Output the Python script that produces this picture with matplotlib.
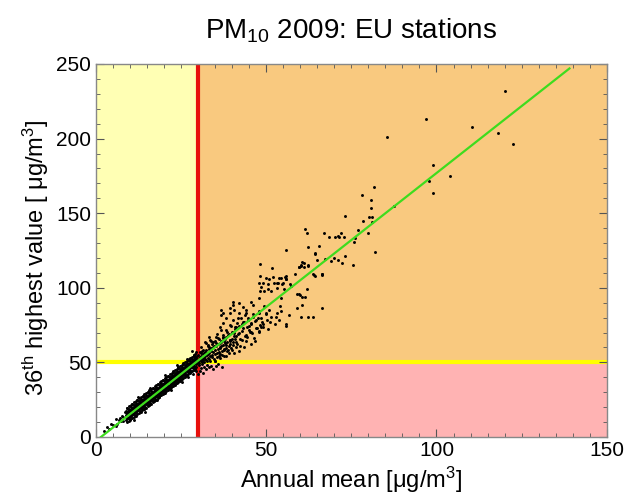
import numpy as np
import matplotlib.pyplot as plt
from matplotlib.ticker import MultipleLocator

plt.rcParams['font.family'] = ['Liberation Sans', 'DejaVu Sans']
plt.rcParams['font.size'] = 14
plt.rcParams['mathtext.fontset'] = 'custom'
plt.rcParams['mathtext.rm'] = 'Liberation Sans'
plt.rcParams['mathtext.it'] = 'Liberation Sans:italic'
plt.rcParams['mathtext.default'] = 'regular'

# limit values
limit_mean = 30      # annual mean limit
limit_day = 50       # daily limit value

# regression line (end points)
fit_x = [1.6, 139.0]
fit_y = [0.0, 247.0]

# low end of the band
low_x = [2.6, 3.3, 4.0, 4.5, 5.2, 5.9, 6.3, 6.8, 7.2, 7.5, 7.8, 8.2, 8.6, 8.0, 6.0]
low_y = [4.0, 6.5, 5.5, 8.5, 7.8, 11.9, 9.0, 11.5, 12.5, 10.8, 14.0, 11.0, 17.0, 13.2, 7.5]

# dense band below the limits
band_x = [
    9.0, 9.2, 8.9, 9.3, 8.8,
    9.5, 9.7, 9.4, 9.8, 9.3,
    10.0, 10.2, 9.9, 10.3, 9.8,
    10.5, 10.7, 10.4, 10.8, 10.3,
    11.0, 11.2, 10.9, 11.3, 10.8,
    11.5, 11.7, 11.4, 11.8, 11.3,
    12.0, 12.2, 11.9, 12.3, 11.8,
    12.5, 12.7, 12.4, 12.8, 12.3,
    13.0, 13.2, 12.9, 13.3, 12.8,
    13.5, 13.7, 13.4, 13.8, 13.3,
    14.0, 14.2, 13.9, 14.3, 13.8, 14.1,
    14.5, 14.7, 14.4, 14.8, 14.3, 14.6,
    15.0, 15.2, 14.9, 15.3, 14.8, 15.1,
    15.5, 15.7, 15.4, 15.8, 15.3, 15.6,
    16.0, 16.2, 15.9, 16.3, 15.8, 16.1,
    16.5, 16.7, 16.4, 16.8, 16.3, 16.6,
    17.0, 17.2, 16.9, 17.3, 16.8, 17.1,
    17.5, 17.7, 17.4, 17.8, 17.3, 17.6,
    18.0, 18.2, 17.9, 18.3, 17.8, 18.1,
    18.5, 18.7, 18.4, 18.8, 18.3, 18.6,
    19.0, 19.2, 18.9, 19.3, 18.8, 19.1,
    19.5, 19.7, 19.4, 19.8, 19.3, 19.6,
    20.0, 20.2, 19.9, 20.3, 19.8, 20.1,
    20.5, 20.7, 20.4, 20.8, 20.3, 20.6,
    21.0, 21.2, 20.9, 21.3, 20.8, 21.1,
    21.5, 21.7, 21.4, 21.8, 21.3, 21.6,
    22.0, 22.2, 21.9, 22.3, 21.8, 22.1,
    22.5, 22.7, 22.4, 22.8, 22.3, 22.6,
    23.0, 23.2, 22.9, 23.3, 22.8, 23.1,
    23.5, 23.7, 23.4, 23.8, 23.3, 23.6,
    24.0, 24.2, 23.9, 24.3, 23.8, 24.1,
    24.5, 24.7, 24.4, 24.8, 24.3, 24.6,
    25.0, 25.2, 24.9, 25.3, 24.8, 25.1,
    25.5, 25.7, 25.4, 25.8, 25.3, 25.6,
    26.0, 26.2, 25.9, 26.3, 25.8, 26.1,
    26.5, 26.7, 26.4, 26.8, 26.3, 26.6,
    27.0, 27.2, 26.9, 27.3, 26.8, 27.1,
    27.5, 27.7, 27.4, 27.8, 27.3, 27.6,
    28.0, 28.2, 27.9, 28.3, 27.8, 28.1,
    28.5, 28.7, 28.4, 28.8, 28.3, 28.6,
    29.0, 29.2, 28.9, 29.3, 28.8, 29.1,
    29.5, 29.7, 29.4, 29.8, 29.3, 29.6,
]
band_y = [
    11.1, 12.9, 14.6, 15.9, 17.3,
    12.7, 14.6, 16.1, 17.4, 19.3,
    12.1, 14.2, 15.9, 17.3, 18.7,
    13.8, 15.6, 17.3, 18.6, 20.0,
    15.4, 17.3, 18.8, 20.1, 22.0,
    14.8, 16.9, 18.6, 20.0, 21.4,
    16.5, 18.3, 20.0, 21.3, 22.7,
    18.1, 20.0, 21.5, 22.8, 24.7,
    17.5, 19.6, 21.3, 22.7, 24.1,
    19.2, 21.0, 22.7, 24.0, 25.4,
    20.8, 22.7, 24.2, 25.5, 27.4, 19.0,
    20.2, 22.3, 24.0, 25.4, 26.8, 24.8,
    21.9, 23.7, 25.4, 26.7, 28.1, 24.4,
    23.5, 25.4, 26.9, 28.2, 30.1, 21.7,
    22.9, 25.0, 26.7, 28.1, 29.5, 27.5,
    24.6, 26.4, 28.1, 29.4, 30.8, 27.1,
    26.2, 28.1, 29.6, 30.9, 32.8, 24.4,
    25.6, 27.7, 29.4, 30.8, 32.2, 30.2,
    27.3, 29.1, 30.8, 32.1, 33.5, 29.8,
    28.9, 30.8, 32.3, 33.6, 35.5, 27.1,
    28.3, 30.4, 32.1, 33.5, 34.9, 32.9,
    30.0, 31.8, 33.5, 34.8, 36.2, 32.5,
    31.6, 33.5, 35.0, 36.3, 38.2, 29.8,
    31.0, 33.1, 34.8, 36.2, 37.6, 35.6,
    32.7, 34.5, 36.2, 37.5, 38.9, 35.2,
    34.3, 36.2, 37.7, 39.0, 40.9, 32.5,
    33.7, 35.8, 37.5, 38.9, 40.3, 38.3,
    35.4, 37.2, 38.9, 40.2, 41.6, 37.9,
    37.0, 38.9, 40.4, 41.7, 43.6, 35.2,
    36.4, 38.5, 40.2, 41.6, 43.0, 41.0,
    38.1, 39.9, 41.6, 42.9, 44.3, 40.6,
    39.7, 41.6, 43.1, 44.4, 46.3, 37.9,
    39.1, 41.2, 42.9, 44.3, 45.7, 43.7,
    40.8, 42.6, 44.3, 45.6, 47.0, 43.3,
    42.4, 44.3, 45.8, 47.1, 49.0, 40.6,
    41.8, 43.9, 45.6, 47.0, 48.4, 46.4,
    43.5, 45.3, 47.0, 48.3, 49.7, 46.0,
    45.1, 47.0, 48.5, 49.8, 51.7, 43.3,
    44.5, 46.6, 48.3, 49.7, 51.1, 49.1,
    46.2, 48.0, 49.7, 51.0, 52.4, 48.7,
    47.8, 49.7, 51.2, 52.5, 54.4, 46.0,
    47.2, 49.3, 51.0, 52.4, 53.8, 51.8,
]

# more of the band, in between the columns above
band2_x = [
    9.25, 9.35, 9.15, 9.3, 9.75, 9.85, 9.65, 9.8,
    10.25, 10.35, 10.15, 10.3, 10.75, 10.85, 10.65, 10.8,
    11.25, 11.35, 11.15, 11.3, 11.75, 11.85, 11.65, 11.8,
    12.25, 12.35, 12.15, 12.3, 12.75, 12.85, 12.65, 12.8,
    13.25, 13.35, 13.15, 13.3, 13.75, 13.85, 13.65, 13.8,
    14.25, 14.35, 14.15, 14.3, 14.75, 14.85, 14.65, 14.8,
    15.25, 15.35, 15.15, 15.3, 15.75, 15.85, 15.65, 15.8,
    16.25, 16.35, 16.15, 16.3, 16.75, 16.85, 16.65, 16.8,
    17.25, 17.35, 17.15, 17.3, 17.75, 17.85, 17.65, 17.8,
    18.25, 18.35, 18.15, 18.3, 18.75, 18.85, 18.65, 18.8,
    19.25, 19.35, 19.15, 19.3, 19.75, 19.85, 19.65, 19.8,
    20.25, 20.35, 20.15, 20.3, 20.75, 20.85, 20.65, 20.8,
    21.25, 21.35, 21.15, 21.3, 21.75, 21.85, 21.65, 21.8,
    22.25, 22.35, 22.15, 22.3, 22.75, 22.85, 22.65, 22.8,
    23.25, 23.35, 23.15, 23.3, 23.75, 23.85, 23.65, 23.8,
    24.25, 24.35, 24.15, 24.3, 24.75, 24.85, 24.65, 24.8,
    25.25, 25.35, 25.15, 25.3, 25.75, 25.85, 25.65, 25.8,
    26.25, 26.35, 26.15, 26.3, 26.75, 26.85, 26.65, 26.8,
    27.25, 27.35, 27.15, 27.3, 27.75, 27.85, 27.65, 27.8,
    28.25, 28.35, 28.15, 28.3, 28.75, 28.85, 28.65, 28.8,
    29.25, 29.35, 29.15, 29.3,
]
band2_y = [
    9.8, 12.6, 16.6, 19.6, 10.7, 13.5, 17.5, 20.5,
    11.6, 14.4, 18.4, 21.4, 12.5, 15.3, 19.3, 22.3,
    13.4, 16.2, 20.2, 23.2, 14.3, 17.1, 21.1, 24.1,
    15.2, 18.0, 22.0, 25.0, 16.1, 18.9, 22.9, 25.9,
    17.0, 19.8, 23.8, 26.8, 17.9, 20.7, 24.7, 27.7,
    18.8, 21.6, 25.6, 28.6, 19.7, 22.5, 26.5, 29.5,
    20.6, 23.4, 27.4, 30.4, 21.5, 24.3, 28.3, 31.3,
    22.4, 25.2, 29.2, 32.2, 23.3, 26.1, 30.1, 33.1,
    24.2, 27.0, 31.0, 34.0, 25.1, 27.9, 31.9, 34.9,
    26.0, 28.8, 32.8, 35.8, 26.9, 29.7, 33.7, 36.7,
    27.8, 30.6, 34.6, 37.6, 28.7, 31.5, 35.5, 38.5,
    29.6, 32.4, 36.4, 39.4, 30.5, 33.3, 37.3, 40.3,
    31.4, 34.2, 38.2, 41.2, 32.3, 35.1, 39.1, 42.1,
    33.2, 36.0, 40.0, 43.0, 34.1, 36.9, 40.9, 43.9,
    35.0, 37.8, 41.8, 44.8, 35.9, 38.7, 42.7, 45.7,
    36.8, 39.6, 43.6, 46.6, 37.7, 40.5, 44.5, 47.5,
    38.6, 41.4, 45.4, 48.4, 39.5, 42.3, 46.3, 49.3,
    40.4, 43.2, 47.2, 50.2, 41.3, 44.1, 48.1, 51.1,
    42.2, 45.0, 49.0, 52.0, 43.1, 45.9, 49.9, 52.9,
    44.0, 46.8, 50.8, 53.8, 44.9, 47.7, 51.7, 54.7,
    45.8, 48.6, 52.6, 55.6,
]

# stragglers around the band
stray_x = [11.3, 14.5, 18.0, 22.0, 25.5, 20.5, 16.0, 12.5, 24.0, 27.0, 28.5, 29.5,
           26.8, 27.5, 28.0, 28.4, 28.8, 29.1, 29.4, 29.7, 28.2]
stray_y = [11.5, 17.0, 25.0, 31.5, 37.0, 41.5, 33.0, 26.5, 48.0, 40.0, 42.5, 44.0,
           52.2, 51.5, 53.0, 52.0, 55.0, 53.5, 56.8, 54.5, 57.5]

# cloud just above / right of the limits
cloud_x = [30.3, 30.8, 31.2, 30.5, 31.7, 32.0, 32.4, 31.5, 32.8, 33.1, 33.5, 33.8,
           34.2, 34.0, 34.6, 35.0, 35.3, 35.7, 36.1, 36.0, 36.5, 36.9, 37.2, 37.5,
           37.9, 38.2, 38.5, 38.8, 39.1, 39.5, 39.9, 40.2, 40.6, 41.0, 41.3, 41.8,
           42.2, 42.5, 43.0, 43.4, 43.8, 44.3, 44.8, 45.2, 45.7, 46.1, 46.5, 47.0,
           47.5, 48.0, 48.5, 49.0, 49.5, 50.0,
           30.1, 30.6, 31.0, 31.4, 31.9, 32.2, 32.6, 33.0, 33.3, 33.7, 34.4, 34.8,
           35.5, 35.9, 36.3, 36.7, 37.1, 37.7, 38.0, 38.6, 39.3, 39.7, 40.4, 40.9,
           31.5, 32.9, 34.1, 35.1, 36.2, 37.4, 38.7, 35.6, 33.6, 32.0, 31.0, 30.7,
           36.8, 39.6, 41.5, 42.8, 44.0, 37.8, 39.0, 40.1, 41.6, 42.9, 44.5, 46.0,
           47.8, 49.2, 50.6, 52.5, 53.8, 46.8, 45.5, 43.5, 42.0, 38.2, 36.6, 34.9,
           30.2, 30.9, 31.3, 31.8, 32.5, 33.0, 33.4, 34.0, 34.5, 35.0, 35.4, 35.8,
           36.4, 36.8, 37.3, 37.8, 38.4, 39.0, 39.4, 40.0, 40.7, 41.2, 30.4, 31.1,
           31.6, 32.1, 32.7, 33.4, 34.3, 35.1, 36.4, 37.6, 38.9, 40.5, 42.4, 44.0,
           45.0, 46.8, 43.0, 41.0]
cloud_y = [49.5, 51.0, 52.5, 53.8, 50.2, 54.0, 51.5, 55.6, 56.5, 53.2, 50.6, 57.8,
           55.0, 59.5, 52.3, 58.2, 61.0, 56.3, 54.1, 62.5, 59.4, 64.0, 57.5, 61.8,
           66.0, 59.9, 63.5, 68.2, 61.2, 65.3, 70.1, 63.4, 67.5, 72.5, 60.5, 69.0,
           74.4, 65.8, 71.0, 77.2, 68.0, 73.6, 79.5, 70.2, 76.0, 82.4, 66.5, 78.3,
           73.0, 84.5, 80.0, 75.5, 88.0, 82.5,
           50.8, 52.2, 54.6, 51.8, 53.3, 57.2, 50.9, 55.4, 58.9, 54.0, 57.0, 60.7,
           53.8, 58.8, 57.0, 61.3, 55.2, 59.0, 62.8, 57.6, 64.2, 59.8, 61.6, 65.9,
           58.5, 60.8, 62.0, 64.5, 65.8, 68.6, 70.5, 69.0, 65.0, 63.5, 60.0, 57.2,
           72.0, 74.5, 76.5, 80.0, 83.0, 58.5, 56.0, 58.2, 62.0, 64.8, 66.8, 69.5,
           71.0, 73.8, 72.2, 76.0, 78.5, 64.0, 62.5, 60.2, 57.5, 54.5, 52.8, 51.2,
           55.0, 56.5, 57.8, 56.0, 58.5, 61.5, 56.2, 64.0, 60.0, 55.5, 62.8, 66.5,
           60.5, 63.5, 67.0, 64.0, 66.8, 69.0, 62.5, 66.0, 70.0, 68.0, 51.8, 50.5,
           53.0, 52.0, 54.8, 52.0, 53.5, 51.0, 55.5, 54.0, 58.5, 56.0, 61.0, 64.5,
           74.5, 78.0, 75.8, 74.0]

# stations exceeding only the annual mean (below the daily limit)
pink_x = [30.4, 30.9, 31.3, 31.8, 32.3, 32.7, 33.2, 33.9, 34.5, 35.2, 36.0, 37.0, 30.6, 31.5, 30.2]
pink_y = [48.0, 46.5, 48.8, 47.2, 45.5, 48.3, 46.8, 47.9, 45.8, 47.4, 48.6, 47.0, 44.0, 43.0, 42.0]

# middle of the scatter
mid_x = [48.1, 51.7, 59.7, 61.2, 62.2, 60.3, 64.1, 66.4, 58.6, 48.2, 50.1, 51.0,
         52.1, 53.1, 53.7, 55.8, 55.8, 54.7, 56.9, 53.2, 50.5, 48.0, 48.6, 59.7,
         61.5, 60.7, 59.1, 62.2, 60.4, 56.0, 55.8, 63.9, 66.4, 51.2, 50.2, 48.8,
         51.6, 52.9, 53.1, 54.4, 54.2, 48.0, 50.0, 47.6, 51.0, 48.0, 45.1, 48.2,
         45.6, 46.1, 40.3, 42.2, 43.2, 44.2, 45.6, 46.1, 40.7, 42.2, 43.7, 39.3,
         37.3, 38.3, 40.3, 41.7, 43.2, 44.6, 36.9, 37.3, 39.3, 41.2, 43.2, 36.4,
         38.3, 40.3, 42.2, 44.2, 45.6, 33.4, 35.4, 37.3, 39.3, 41.2, 34.4, 36.4,
         38.3, 32.5, 33.4, 47.1, 48.5, 40.3, 39.3, 36.9, 56.8, 54.5, 55.6, 55.8,
         49.0, 50.7, 52.4, 53.4, 55.1, 48.3, 49.4, 51.4, 55.4, 57.2, 62.0, 59.2,
         59.9, 60.7, 48.0, 54.4, 60.2, 60.7, 59.7, 61.2, 62.4, 64.4, 66.3]
mid_y = [115.7, 113.0, 114.1, 116.8, 115.0, 115.5, 108.5, 109.2, 109.2, 107.7, 106.8, 105.9,
         107.0, 103.4, 106.8, 108.1, 105.9, 102.3, 102.3, 99.6, 99.4, 103.0, 100.7, 95.6,
         94.0, 88.4, 86.2, 80.2, 80.2, 75.9, 74.1, 80.2, 86.2, 77.3, 78.4, 76.8,
         80.6, 80.2, 83.3, 84.6, 88.0, 82.9, 82.9, 79.5, 85.1, 70.6, 71.7, 75.0,
         76.2, 80.6, 90.7, 89.6, 87.3, 85.1, 90.7, 88.4, 85.1, 82.9, 81.7, 82.9,
         82.9, 79.5, 78.4, 79.5, 77.3, 78.4, 81.7, 76.2, 75.0, 73.9, 72.8, 73.9,
         71.7, 70.6, 69.4, 68.3, 70.6, 67.2, 67.2, 66.1, 65.0, 63.9, 63.9, 62.8,
         61.6, 62.8, 60.5, 72.8, 73.9, 88.4, 86.2, 85.1, 81.7, 106.4, 107.5, 105.9,
         103.0, 102.6, 103.0, 103.5, 103.0, 97.9, 98.1, 97.9, 99.0, 101.3, 99.5, 95.7,
         95.0, 94.1, 93.0, 93.0, 114.7, 117.3, 114.2, 113.8, 114.9, 122.6, 109.0]

# upper part / outliers
high_x = [81.7, 78.2, 80.8, 80.8, 73.2, 80.2, 81.0, 78.5, 81.1, 76.9, 80.0, 61.5,
          62.1, 67.1, 68.6, 70.2, 71.1, 71.4, 72.1, 72.9, 76.1, 75.9, 81.9, 55.8,
          62.3, 65.6, 64.5, 65.0, 67.2, 69.0, 70.0, 71.1, 72.4, 73.1, 75.4, 66.4,
          63.8, 64.5, 87.5, 120.1, 96.9, 85.5, 110.3, 117.9, 122.4, 99.0, 97.8, 103.9,
          99.0]
high_y = [167.4, 162.0, 158.9, 153.3, 148.2, 147.3, 147.3, 144.6, 144.1, 138.6, 136.8, 139.5,
          136.5, 137.0, 133.9, 134.3, 134.8, 133.9, 136.6, 134.3, 133.6, 131.0, 124.0, 125.4,
          127.4, 128.3, 123.2, 118.7, 119.1, 118.2, 120.0, 118.7, 116.4, 121.4, 115.1, 108.9,
          109.3, 108.2, 155.0, 231.7, 213.3, 201.1, 207.8, 203.5, 196.4, 182.5, 171.8, 175.1,
          163.7]

xs = np.concatenate([low_x, band_x, band2_x, stray_x, cloud_x, pink_x, mid_x, high_x])
ys = np.concatenate([low_y, band_y, band2_y, stray_y, cloud_y, pink_y, mid_y, high_y])

fig = plt.figure(figsize=(6.26, 4.96), dpi=100)
ax = fig.add_axes([0.1526, 0.119, 0.8170, 0.752])

xmax, ymax = 150, 250
# background zones
ax.fill_between([0, limit_mean], limit_day, ymax, color='#FFFFB4', lw=0, zorder=0)
ax.fill_between([limit_mean, xmax], limit_day, ymax, color='#F9C97F', lw=0, zorder=0)
ax.fill_between([limit_mean, xmax], 0, limit_day, color='#FFB3B3', lw=0, zorder=0)

ax.axhline(limit_day, color='#FFFF00', lw=3, zorder=1)
ax.axvline(limit_mean, color='#E8100C', lw=3, zorder=2)

ax.scatter(xs, ys, s=4.5, c='black', linewidths=0, zorder=3)
ax.plot(fit_x, fit_y, color='#3EDC1E', lw=1.6, zorder=4)

ax.set_xlim(0, xmax)
ax.set_ylim(0, ymax)
ax.xaxis.set_major_locator(MultipleLocator(50))
ax.xaxis.set_minor_locator(MultipleLocator(5))
ax.yaxis.set_major_locator(MultipleLocator(50))
ax.yaxis.set_minor_locator(MultipleLocator(10))
ax.tick_params(which='both', direction='in', top=True, right=True, color='#555555')
ax.tick_params(which='major', length=6, labelsize=15, pad=3)
ax.tick_params(which='minor', length=3)
for sp in ax.spines.values():
    sp.set_color('#888888')
    sp.set_linewidth(1)

ax.set_title('PM$_{10}$ 2009: EU stations', fontsize=20, pad=18)
ax.set_xlabel('Annual mean [μg/m$^{3}$]', fontsize=17)
ax.set_ylabel('36$^{th}$ highest value [ μg/m$^{3}$]', fontsize=17)
ax.xaxis.set_label_coords(0.5, -0.075)
ax.yaxis.set_label_coords(-0.087, 0.48)

plt.savefig('out.png', dpi=100)
